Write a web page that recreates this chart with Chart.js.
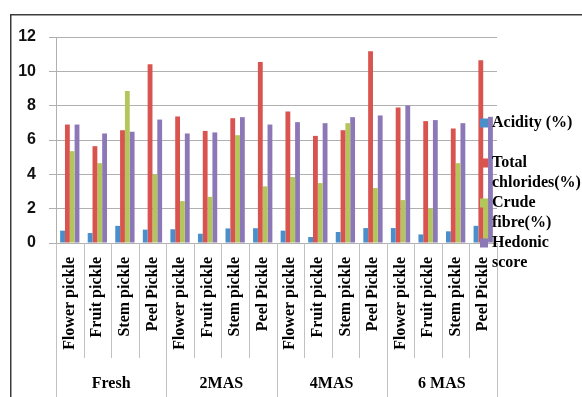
<!DOCTYPE html>
<html>
<head>
<meta charset="utf-8">
<title>Pickle quality during storage</title>
<script src="https://cdn.jsdelivr.net/npm/chart.js@4/dist/chart.umd.min.js"></script>
<style>
  html, body { margin: 0; padding: 0; background: #ffffff; }
  #wrap { position: relative; width: 582px; height: 397px; }
</style>
</head>
<body>
<div id="wrap"><canvas id="chart" width="582" height="397"></canvas></div>
<script>
// Pickle types, repeated for each storage period
const pickles = ['Flower pickle', 'Fruit pickle', 'Stem pickle', 'Peel Pickle'];
const periods = ['Fresh', '2MAS', '4MAS', '6 MAS'];
const categories = periods.flatMap(() => pickles);

const seriesNames = ['Acidity (%)', 'Total chlorides(%)', 'Crude fibre(%)', 'Hedonic score'];
const seriesColors = ['#4A8FCB', '#D9534F', '#B2C65B', '#8C77B7'];

const acidity   = [0.72, 0.58, 1.00, 0.78,  0.80, 0.54, 0.85, 0.86,  0.72, 0.35, 0.64, 0.87,  0.87, 0.50, 0.68, 1.00];
const chlorides = [6.90, 5.64, 6.57, 10.41, 7.37, 6.53, 7.27, 10.55, 7.66, 6.24, 6.57, 11.17, 7.89, 7.10, 6.67, 10.65];
const fibre     = [5.35, 4.65, 8.86, 4.00,  2.44, 2.69, 6.28, 3.30,  3.84, 3.49, 6.98, 3.20,  2.50, 2.00, 4.65, 2.55];
const hedonic   = [6.90, 6.38, 6.48, 7.19,  6.38, 6.44, 7.33, 6.90,  7.04, 6.98, 7.33, 7.43,  8.01, 7.16, 6.98, 7.35];

const yTicks = [0, 2, 4, 6, 8, 10, 12];

const serif = "'Liberation Serif', 'Times New Roman', serif";
const sans = "'Liberation Sans', Arial, sans-serif";

// White page with a dark frame along the top and left
const framePlugin = {
  id: 'frame',
  beforeDraw(chart) {
    const ctx = chart.ctx;
    ctx.save();
    ctx.fillStyle = '#ffffff';
    ctx.fillRect(0, 0, chart.width, chart.height);
    ctx.strokeStyle = '#3c3c3c';
    ctx.lineWidth = 1.5;
    ctx.beginPath();
    ctx.moveTo(10.75, chart.height);
    ctx.lineTo(10.75, 14.75);
    ctx.lineTo(chart.width, 14.75);
    ctx.stroke();
    ctx.restore();
  }
};

// Category / period separators below the plot area
const separatorPlugin = {
  id: 'separators',
  afterDraw(chart) {
    const x = chart.scales.x;
    const x2 = chart.scales.x2;
    const ctx = chart.ctx;
    const n = categories.length;
    const step = x.width / n;
    const top = chart.chartArea.bottom;
    ctx.save();
    ctx.strokeStyle = '#c2c2c2';
    ctx.lineWidth = 1;
    for (let i = 0; i <= n; i++) {
      const px = Math.round(x.left + i * step) + 0.5;
      const isGroup = i % pickles.length === 0;
      ctx.beginPath();
      ctx.moveTo(px, top);
      ctx.lineTo(px, isGroup ? x2.bottom : x.bottom);
      ctx.stroke();
    }
    ctx.restore();
  }
};

// Legend placed at the right, drawn over the plot edge
const legendPlugin = {
  id: 'sideLegend',
  afterDraw(chart) {
    const ctx = chart.ctx;
    ctx.save();
    ctx.font = 'bold 16px ' + serif;
    ctx.textBaseline = 'middle';
    ctx.textAlign = 'left';
    const maxWidth = 90;
    chart.data.datasets.forEach((ds, i) => {
      const cy = 123 + i * 40;
      ctx.fillStyle = ds.backgroundColor;
      ctx.fillRect(480, cy - 4.5, 8, 9);
      // simple word wrap
      const words = ds.label.split(' ');
      const lines = [];
      let line = '';
      words.forEach(w => {
        const test = line ? line + ' ' + w : w;
        if (line && ctx.measureText(test).width > maxWidth) {
          lines.push(line);
          line = w;
        } else {
          line = test;
        }
      });
      if (line) lines.push(line);
      ctx.fillStyle = '#000000';
      lines.forEach((l, k) => ctx.fillText(l, 492, cy + k * 19.5));
    });
    ctx.restore();
  }
};

const series = [acidity, chlorides, fibre, hedonic];

new Chart(document.getElementById('chart'), {
  type: 'bar',
  data: {
    labels: categories,
    datasets: series.map((values, i) => ({
      label: seriesNames[i],
      data: values,
      backgroundColor: seriesColors[i],
      borderWidth: 0,
      categoryPercentage: 0.7,
      barPercentage: 1.0,
      xAxisID: 'x',
      yAxisID: 'y'
    }))
  },
  options: {
    responsive: false,
    animation: false,
    devicePixelRatio: 1,
    layout: { padding: { left: 0, right: 85, top: 37, bottom: 0 } },
    plugins: {
      legend: { display: false },
      tooltip: { enabled: false }
    },
    scales: {
      y: {
        min: 0,
        max: 12,
        afterBuildTicks(axis) { axis.ticks = yTicks.map(v => ({ value: v })); },
        afterFit(axis) { axis.width = 56; },
        grid: { color: '#b0b0b0', tickLength: 7, lineWidth: 1 },
        border: { display: true, color: '#b0b0b0' },
        ticks: {
          color: '#111111',
          padding: 13,
          font: { family: sans, size: 16, weight: 'bold' }
        }
      },
      x: {
        type: 'category',
        position: 'bottom',
        weight: 0,
        afterFit(axis) { axis.height = 115; },
        grid: { display: false, drawTicks: false },
        border: { display: true, color: '#b0b0b0' },
        ticks: {
          autoSkip: false,
          minRotation: 90,
          maxRotation: 90,
          padding: 14,
          color: '#000000',
          font: { family: serif, size: 16, weight: 'bold' }
        }
      },
      x2: {
        type: 'category',
        position: 'bottom',
        weight: 1,
        labels: periods,
        offset: true,
        afterFit(axis) { axis.height = 39; },
        grid: { display: false, drawTicks: false },
        border: { display: false },
        ticks: {
          autoSkip: false,
          maxRotation: 0,
          padding: 16,
          color: '#000000',
          font: { family: serif, size: 16, weight: 'bold' }
        }
      }
    }
  },
  plugins: [framePlugin, separatorPlugin, legendPlugin]
});
</script>
</body>
</html>
